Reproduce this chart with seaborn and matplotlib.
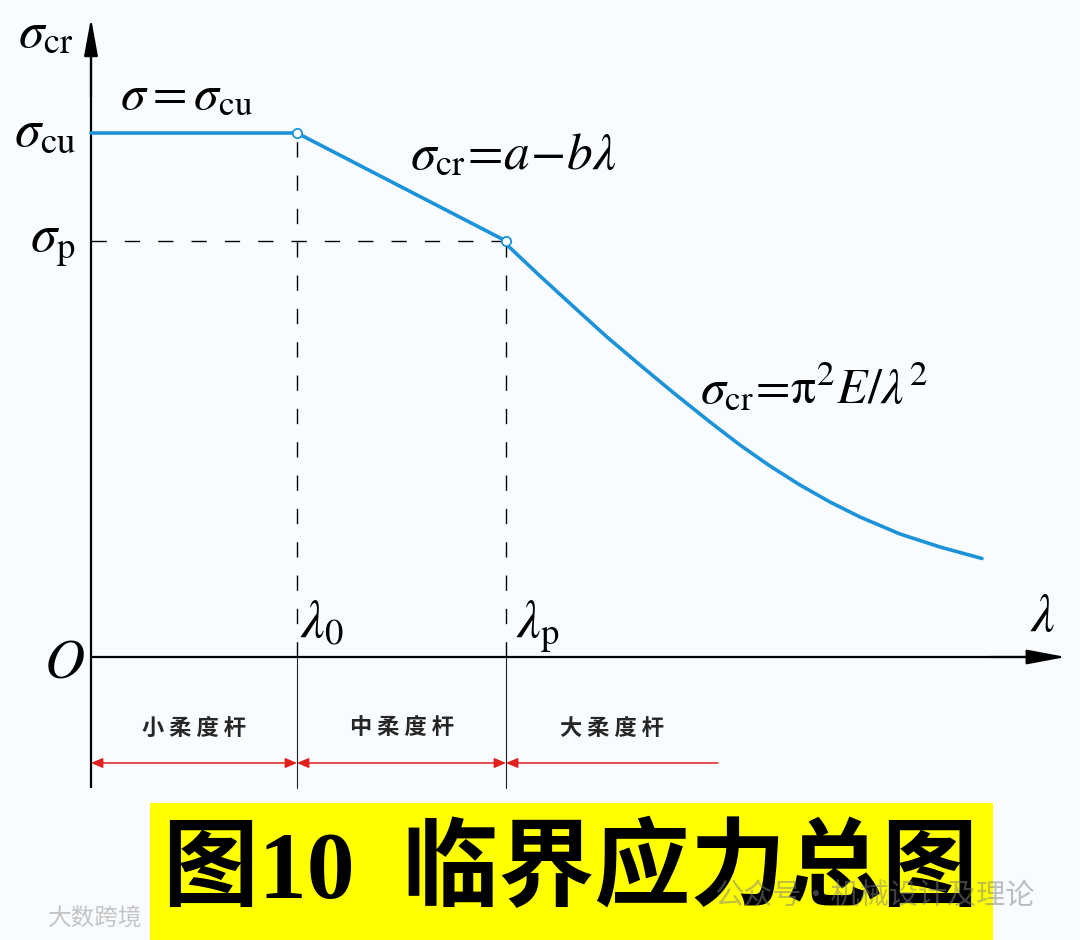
import matplotlib
matplotlib.use("Agg")
import matplotlib.pyplot as plt
import matplotlib.patches as mpatches
import seaborn as sns

sns.set_style("white")
plt.rcParams['font.family'] = ['Liberation Serif', 'Noto Sans CJK SC', 'DejaVu Sans']
plt.rcParams['mathtext.fontset'] = 'stix'

# ===== DATA (slenderness lambda, critical stress sigma) =====
lam_0 = 206
lam_p = 415
sigma_cu = 524
sigma_p = 416

# short bars (plateau) and intermediate bars (straight line a - b*lambda)
lam_inelastic = [0, lam_0, lam_p]
sig_inelastic = [sigma_cu, sigma_cu, sigma_p]

# long bars: Euler hyperbola
lam_euler = [414, 449, 484, 516, 549, 584, 619, 649, 679, 709, 739, 769, 809, 849, 891]
sig_euler = [414, 381, 349, 320, 292, 263, 235, 212, 191, 172, 155, 140, 123, 110, 98.5]

zone_labels = ['小 柔 度 杆', '中 柔 度 杆', '大 柔 度 杆']
zone_edges = [0, lam_0, lam_p, 627]

BLUE = '#1c93d9'
RED = '#e0201c'

# ===== LAYOUT: axes fill the figure, 1 data unit = 1 pixel =====
X0, Y0 = 91, 657          # pixel position of the origin


def at(px, py):
    return px - X0, Y0 - py


fig = plt.figure(figsize=(10.8, 9.4), dpi=100, facecolor='#f9fcff')
ax = fig.add_axes([0, 0, 1, 1])
ax.set_facecolor('#f9fcff')
ax.set_xlim(-X0, 1080 - X0)
ax.set_ylim(Y0 - 940, Y0)
ax.set_axis_off()

y_bottom = Y0 - 788

# axes with arrows
ax.plot([0, 0], [y_bottom, 600], color='black', lw=1.6, solid_capstyle='butt')
ax.annotate('', xy=(0, Y0 - 18), xytext=(0, 560),
            arrowprops=dict(arrowstyle='-|>,head_length=2.3,head_width=0.42',
                            mutation_scale=10, color='black', lw=1.6, shrinkA=0, shrinkB=0))
ax.plot([0, 940], [0, 0], color='black', lw=1.6, solid_capstyle='butt')
ax.annotate('', xy=(1066 - X0, 0), xytext=(900, 0),
            arrowprops=dict(arrowstyle='-|>,head_length=2.4,head_width=0.45',
                            mutation_scale=10, color='black', lw=1.6, shrinkA=0, shrinkB=0))

# dashed guide lines
dash = dict(color='black', lw=1.0, dashes=(11, 13))
ax.plot([lam_0, lam_0], [0, sigma_cu], **dash)
ax.plot([lam_p, lam_p], [0, sigma_p], **dash)
ax.plot([0, lam_p], [sigma_p, sigma_p], **dash)

# thin extension lines below the axis
for xv in [lam_0, lam_p]:
    ax.plot([xv, xv], [0, y_bottom], color='#222222', lw=0.8)

# stress curve
sns.lineplot(x=lam_inelastic, y=sig_inelastic, ax=ax, color=BLUE, lw=2.6,
             sort=False, estimator=None)
sns.lineplot(x=lam_euler, y=sig_euler, ax=ax, color=BLUE, lw=2.6,
             sort=False, estimator=None)
sns.scatterplot(x=[lam_0, lam_p], y=[sigma_cu, sigma_p], ax=ax, s=45,
                facecolor='white', edgecolor=BLUE, linewidth=1.3, zorder=5)

# red dimension arrows and zone labels
y_dim = Y0 - 763
for i in range(3):
    # last one only has a head at its left end (xy end)
    style = '<|-|>' if i < 2 else '-|>'
    ax.annotate('', xy=(zone_edges[i], y_dim), xytext=(zone_edges[i + 1], y_dim),
                arrowprops=dict(arrowstyle=style + ',head_length=0.7,head_width=0.3',
                                mutation_scale=10, color=RED, lw=1.1,
                                shrinkA=0, shrinkB=0))
    ax.text((zone_edges[i] + zone_edges[i + 1]) / 2, Y0 - 728, zone_labels[i],
            ha='center', va='center', fontsize=16, fontweight='bold',
            family=['Noto Sans CJK SC'])

# math labels
lab = dict(ha='left', va='baseline', color='black')
ax.text(*at(18, 47), r'$\sigma_{\rm cr}$', fontsize=37, **lab)
ax.text(*at(120, 108), r'$\sigma = \sigma_{\rm cu}$', fontsize=36, **lab)
ax.text(*at(14, 146), r'$\sigma_{\rm cu}$', fontsize=38, **lab)
ax.text(*at(30, 251), r'$\sigma_{\rm p}$', fontsize=38, **lab)
ax.text(*at(410, 169), r'$\sigma_{\rm cr}\!=\!a\!-\!b\lambda$', fontsize=37, **lab)
ax.text(*at(700, 403), r'$\sigma_{\rm cr}\!=\!\mathrm{π}^2E/\lambda^2$', fontsize=36, **lab)
ax.text(*at(300, 637), r'$\lambda_0$', fontsize=38, **lab)
ax.text(*at(516, 637), r'$\lambda_{\rm p}$', fontsize=38, **lab)
ax.text(*at(1030, 631), r'$\lambda$', fontsize=38, **lab)
ax.text(*at(44, 678), r'$O$', fontsize=40, **lab)

# yellow caption banner
bx, by = at(150, 940)
ax.add_patch(mpatches.Rectangle((bx, by), 993 - 150, 940 - 803, facecolor='#ffff00',
                                edgecolor='none', zorder=1))
ax.text(*at(570, 872), '图10  临界应力总图', ha='center', va='center', fontsize=69,
        fontweight='bold', color='black',
        family=['Liberation Serif', 'Noto Sans CJK SC'], zorder=2)

# watermarks
ax.text(*at(875, 897), '公众号·机械设计及理论', ha='center', va='center', fontsize=21,
        color='#808080', alpha=0.5, family=['Noto Sans CJK SC'], zorder=3)
ax.text(*at(95, 918), '大数跨境', ha='center', va='center', fontsize=17,
        color='#c4c4c4', family=['Noto Sans CJK SC'], zorder=3)

plt.savefig('out.png', dpi=100, facecolor=fig.get_facecolor())
